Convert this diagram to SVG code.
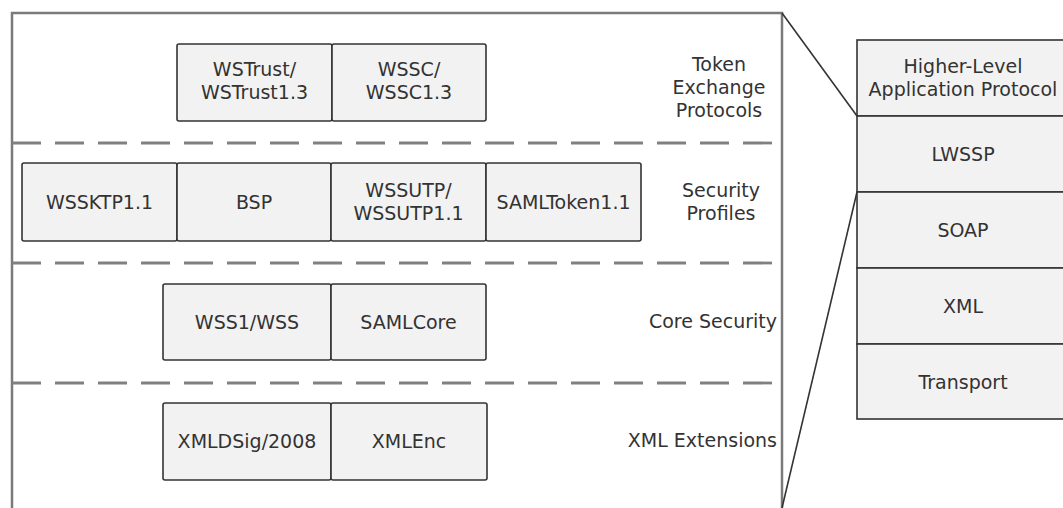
<svg xmlns="http://www.w3.org/2000/svg" width="1063" height="508" viewBox="0 0 1063 508">
<style>
.box{fill:#f2f2f2;stroke:#333;stroke-width:1.6}
.t{font-family:"DejaVu Sans",Verdana,sans-serif;font-size:19px;fill:#333;text-anchor:middle}
.lab{font-family:"DejaVu Sans",Verdana,sans-serif;font-size:19px;fill:#333}
.frame{fill:none;stroke:#7a7a7a;stroke-width:2.5}
.dash{fill:none;stroke:#808080;stroke-width:2.8;stroke-dasharray:29 14}
.zoom{fill:none;stroke:#333;stroke-width:1.6}
</style>
<rect width="1063" height="508" fill="#fff"/>
<g id="frame">
<path class="frame" d="M12,508 V13 H782 V508"/>
<path class="dash" d="M12,143 H782"/>
<path class="dash" d="M12,263 H782"/>
<path class="dash" d="M12,383 H782"/>
</g>
<g id="connectors">
<path class="zoom" d="M782,13 L857,116"/>
<path class="zoom" d="M857,192 L782,508"/>
</g>
<g id="layer-labels">
<text class="lab" text-anchor="middle" x="719" y="71">Token</text>
<text class="lab" text-anchor="middle" x="719" y="94">Exchange</text>
<text class="lab" text-anchor="middle" x="719" y="117">Protocols</text>
<text class="lab" text-anchor="middle" x="721" y="197">Security</text>
<text class="lab" text-anchor="middle" x="721" y="220">Profiles</text>
<text class="lab" text-anchor="end" x="777" y="328">Core Security</text>
<text class="lab" text-anchor="end" x="777" y="447">XML Extensions</text>
</g>
<g id="wstrust"><rect class="box" x="177" y="44" width="155" height="77" rx="2"/><text class="t" x="254.5" y="76">WSTrust/</text><text class="t" x="254.5" y="99">WSTrust1.3</text></g>
<g id="wssc"><rect class="box" x="332" y="44" width="154" height="77" rx="2"/><text class="t" x="409" y="76">WSSC/</text><text class="t" x="409" y="99">WSSC1.3</text></g>
<g id="wssktp"><rect class="box" x="22" y="163" width="155" height="78" rx="2"/><text class="t" x="99.5" y="209">WSSKTP1.1</text></g>
<g id="bsp"><rect class="box" x="177" y="163" width="154" height="78" rx="2"/><text class="t" x="254" y="209">BSP</text></g>
<g id="wssutp"><rect class="box" x="331" y="163" width="155" height="78" rx="2"/><text class="t" x="408.5" y="197">WSSUTP/</text><text class="t" x="408.5" y="220">WSSUTP1.1</text></g>
<g id="samltoken"><rect class="box" x="486" y="163" width="155" height="78" rx="2"/><text class="t" x="563.5" y="209">SAMLToken1.1</text></g>
<g id="wss"><rect class="box" x="163" y="284" width="168" height="76" rx="2"/><text class="t" x="247" y="329">WSS1/WSS</text></g>
<g id="samlcore"><rect class="box" x="331" y="284" width="155" height="76" rx="2"/><text class="t" x="408.5" y="329">SAMLCore</text></g>
<g id="xmldsig"><rect class="box" x="163" y="403" width="168" height="77" rx="2"/><text class="t" x="247" y="448">XMLDSig/2008</text></g>
<g id="xmlenc"><rect class="box" x="331" y="403" width="156" height="77" rx="2"/><text class="t" x="409" y="448">XMLEnc</text></g>
<g id="stack-hlap"><rect class="box" x="857" y="40" width="213" height="76"/><text class="t" x="963" y="73" font-size="18.5">Higher-Level</text><text class="t" x="963" y="95.5" font-size="18.5">Application Protocol</text></g>
<g id="stack-lwssp"><rect class="box" x="857" y="116" width="213" height="76"/><text class="t" x="963" y="161">LWSSP</text></g>
<g id="stack-soap"><rect class="box" x="857" y="192" width="213" height="76"/><text class="t" x="963" y="237">SOAP</text></g>
<g id="stack-xml"><rect class="box" x="857" y="268" width="213" height="76"/><text class="t" x="963" y="313">XML</text></g>
<g id="stack-transport"><rect class="box" x="857" y="344" width="213" height="75"/><text class="t" x="963" y="389">Transport</text></g>
</svg>
